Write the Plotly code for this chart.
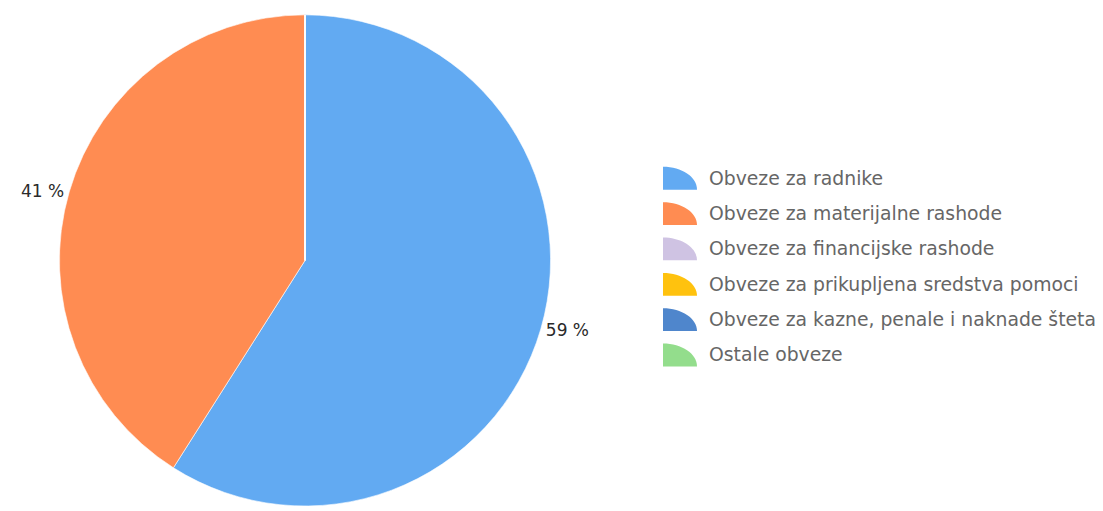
import plotly.graph_objects as go

# Obligations by type (share of total)
categories = [
    "Obveze za radnike",
    "Obveze za materijalne rashode",
    "Obveze za financijske rashode",
    "Obveze za prikupljena sredstva pomoci",
    "Obveze za kazne, penale i naknade šteta",
    "Ostale obveze",
]
values = [59, 41, 0, 0, 0, 0]
colors = ["#62aaf2", "#ff8c52", "#cfc3e3", "#ffc20e", "#4f86cc", "#93dd8c"]

W, H = 1103, 511
total = sum(values)
labels_txt = [f"{round(v / total * 100)} %" if v else "" for v in values]

fig = go.Figure()
fig.add_trace(go.Pie(
    labels=categories,
    values=values,
    text=labels_txt,
    textinfo="text",
    textposition="outside",
    textfont=dict(family="DejaVu Sans", size=17, color="#2a2a2a"),
    marker=dict(colors=colors, line=dict(color="rgba(255,255,255,0.6)", width=1)),
    sort=False,
    direction="clockwise",
    rotation=0,
    showlegend=False,
    hoverinfo="label+percent",
    domain=dict(x=[55 / W, 555 / W], y=[0, 1 - 15 / H]),
))

# Custom legend: quarter-ellipse swatches with labels
def px(x):
    return x / W

def py(y):
    return 1 - y / H

k = 0.5523
x0, w, h = 663, 34, 23
row0, step = 180, 35.7
shapes, annotations = [], []
for i, (name, col) in enumerate(zip(categories, colors)):
    yc = row0 + i * step
    yb = yc + h / 2
    yt = yb - h
    path = (
        f"M {px(x0)},{py(yb)} L {px(x0)},{py(yt)} "
        f"C {px(x0 + k * w)},{py(yt)} {px(x0 + w)},{py(yb - k * h)} {px(x0 + w)},{py(yb)} Z"
    )
    shapes.append(dict(type="path", xref="paper", yref="paper", path=path,
                       fillcolor=col, line=dict(width=0)))
    annotations.append(dict(
        x=px(707), y=py(yc), xref="paper", yref="paper",
        xanchor="left", yanchor="middle", showarrow=False,
        text=name, font=dict(family="DejaVu Sans", size=18.8, color="#666666"),
    ))

fig.update_layout(
    width=W, height=H,
    margin=dict(l=0, r=0, t=0, b=0),
    paper_bgcolor="white",
    plot_bgcolor="white",
    shapes=shapes,
    annotations=annotations,
)

fig.write_html("out.html")
